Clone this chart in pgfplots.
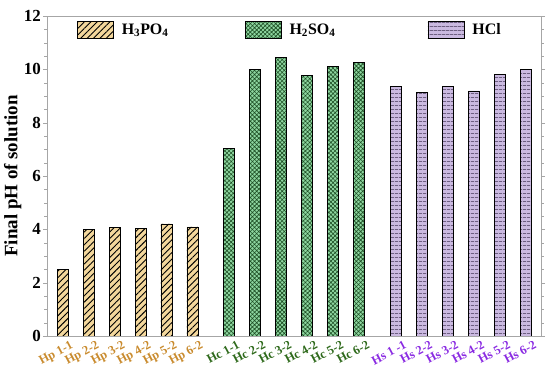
\documentclass[border=0pt]{standalone}
\usepackage{pgfplots}
\pgfplotsset{compat=1.18}
\usepackage{fontspec}
\setmainfont{Liberation Serif}
\usetikzlibrary{patterns.meta}
\definecolor{hpfill}{HTML}{F3D79C}
\definecolor{hcfill}{HTML}{8ED6A0}
\definecolor{hcline}{HTML}{1E4F25}
\definecolor{hsfill}{HTML}{CAB9E0}
\definecolor{hsline}{HTML}{3E3050}
\definecolor{hptext}{HTML}{C98B2E}
\definecolor{hctext}{HTML}{2F6A1C}
\definecolor{hstext}{HTML}{8A2BE2}
\begin{document}
\begin{tikzpicture}
\useasboundingbox (0,0) rectangle (550bp,380bp);
\begin{axis}[
  at={(47bp,44bp)}, anchor=south west,
  scale only axis, width=494bp, height=320bp,
  xmin=-0.6, xmax=18.42, ymin=0, ymax=12,
  axis line style={gray!70},
  ytick={0,2,4,6,8,10,12},
  minor y tick num=3,
  tick align=outside,
  tick style={gray!70},
  major tick length=4bp, minor tick length=2.5bp,
  xtick={0,1,2,3,4,5,6.42,7.42,8.42,9.42,10.42,11.42,12.84,13.84,14.84,15.84,16.84,17.84},
  xtick style={draw=none},
  xticklabels={\textcolor{hptext}{Hp 1-1},\textcolor{hptext}{Hp 2-2},\textcolor{hptext}{Hp 3-2},\textcolor{hptext}{Hp 4-2},\textcolor{hptext}{Hp 5-2},\textcolor{hptext}{Hp 6-2},
    \textcolor{hctext}{Hc 1-1},\textcolor{hctext}{Hc 2-2},\textcolor{hctext}{Hc 3-2},\textcolor{hctext}{Hc 4-2},\textcolor{hctext}{Hc 5-2},\textcolor{hctext}{Hc 6-2},
    \textcolor{hstext}{Hs 1 -1},\textcolor{hstext}{Hs 2-2},\textcolor{hstext}{Hs 3-2},\textcolor{hstext}{Hs 4-2},\textcolor{hstext}{Hs 5-2},\textcolor{hstext}{Hs 6-2}},
  xticklabel style={font=\fontsize{12.5}{14}\selectfont\bfseries, rotate=28, anchor=north east, inner sep=0.5bp, xshift=7bp, yshift=-3bp},
  yticklabel style={font=\fontsize{17}{18}\selectfont\bfseries, inner sep=2bp},
  /pgf/number format/assume math mode=true,
  ylabel={Final pH of solution},
  ylabel style={font=\fontsize{19}{20}\selectfont\bfseries, yshift=-3bp},
  bar width=11bp,
  legend columns=3,
  legend cell align=left,
  legend style={draw=none, fill=none, at={(rel axis cs:0.0607,0.9578)}, anchor=west,
    font=\fontsize{16}{17}\selectfont\bfseries, inner sep=0bp, outer sep=0bp,
    /tikz/every odd column/.append style={column sep=6bp},
    /tikz/every even column/.append style={column sep=0bp}},
  legend image code/.code={\draw[#1] (0bp,-8.5bp) rectangle (36bp,8.5bp);},
]
\addplot[ybar, draw=black, line width=0.8bp, fill=hpfill,
  postaction={pattern={Lines[angle=45,distance=4.5bp,line width=0.9bp]}, pattern color=black}]
  coordinates {(0,2.5) (1,4.0) (2,4.08) (3,4.04) (4,4.2) (5,4.09)};
\addlegendentry{\makebox[121bp][l]{H\textsubscript{3}PO\textsubscript{4}}}
\addplot[ybar, draw=black, line width=0.8bp, fill=hcfill,
  postaction={pattern={Hatch[angle=45,distance=3bp,line width=0.6bp]}, pattern color=hcline}]
  coordinates {(6.42,7.04) (7.42,10.0) (8.42,10.45) (9.42,9.76) (10.42,10.11) (11.42,10.27)};
\addlegendentry{\makebox[136bp][l]{H\textsubscript{2}SO\textsubscript{4}}}
\addplot[ybar, draw=black, line width=0.8bp, fill=hsfill,
  postaction={pattern={Lines[angle=0,distance=3.6bp,line width=0.7bp]}, pattern color=hsline}]
  coordinates {(12.84,9.35) (13.84,9.14) (14.84,9.36) (15.84,9.19) (16.84,9.8) (17.84,10.0)};
\addlegendentry{HCl}
\end{axis}
\end{tikzpicture}
\end{document}
